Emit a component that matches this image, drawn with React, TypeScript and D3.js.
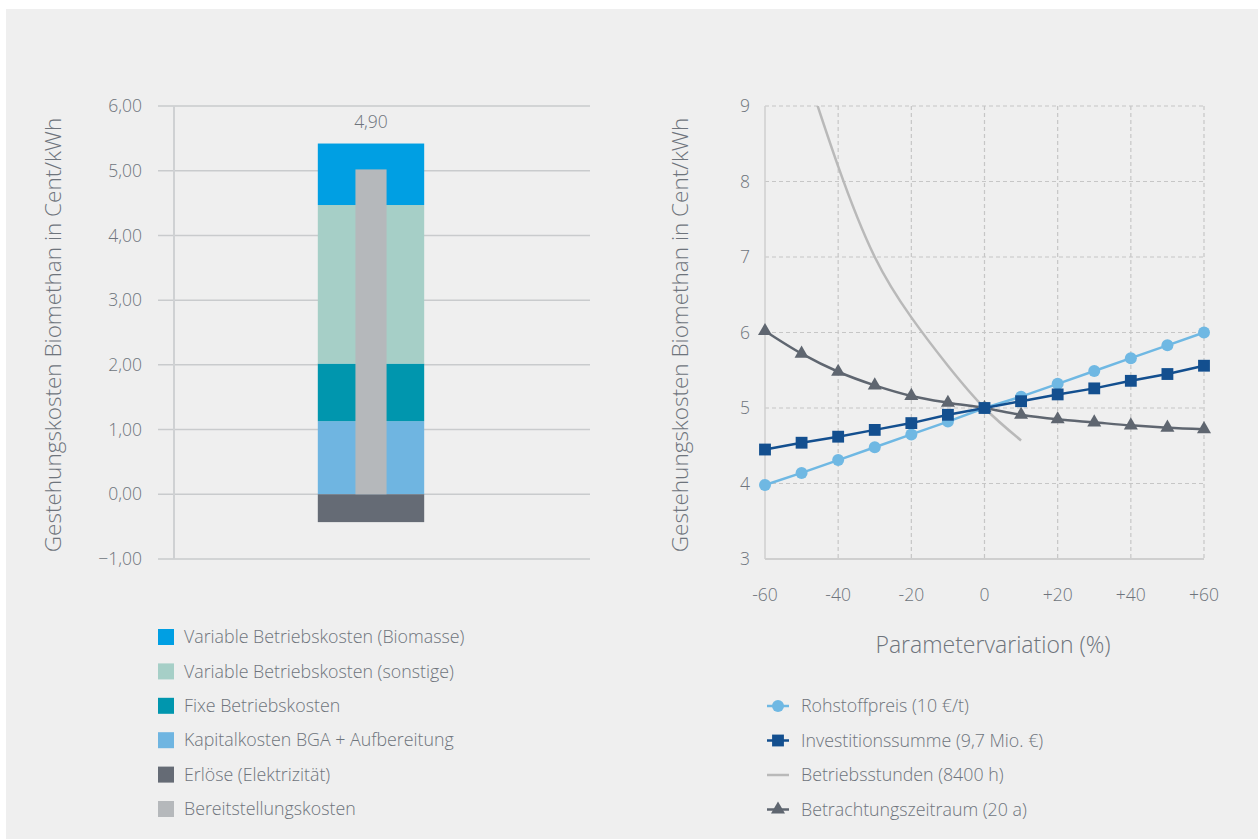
import React from "react";
import * as d3 from "d3";

// ---------- Left chart data ----------
const barCategory = ["Biomethan"];
const stackKeys = [
  "Kapitalkosten BGA + Aufbereitung",
  "Fixe Betriebskosten",
  "Variable Betriebskosten (sonstige)",
  "Variable Betriebskosten (Biomasse)",
];
const stackValues = [1.13, 0.89, 2.45, 0.95];
const stackColors = ["#6fb5e1", "#0096ae", "#a6cfc7", "#009fe3"];
const erloeseValue = -0.43;
const erloeseColor = "#656b75";
const bereitstellungValue = 5.02;
const bereitstellungColor = "#b5b8bb";
const totalLabel = "4,90";
const leftTicks = [-1, 0, 1, 2, 3, 4, 5, 6];
const leftLegend = [
  { label: "Variable Betriebskosten (Biomasse)", color: "#009fe3" },
  { label: "Variable Betriebskosten (sonstige)", color: "#a6cfc7" },
  { label: "Fixe Betriebskosten", color: "#0096ae" },
  { label: "Kapitalkosten BGA + Aufbereitung", color: "#6fb5e1" },
  { label: "Erlöse (Elektrizität)", color: "#656b75" },
  { label: "Bereitstellungskosten", color: "#b5b8bb" },
];

// ---------- Right chart data ----------
const variation = [-60, -50, -40, -30, -20, -10, 0, 10, 20, 30, 40, 50, 60];
const rohstoffpreis = [3.98, 4.14, 4.31, 4.48, 4.65, 4.82, 5.0, 5.15, 5.32, 5.49, 5.66, 5.83, 6.0];
const investitionssumme = [4.45, 4.54, 4.62, 4.71, 4.8, 4.91, 5.0, 5.09, 5.18, 5.26, 5.36, 5.45, 5.56];
const betrachtungszeitraum = [6.02, 5.72, 5.48, 5.3, 5.16, 5.07, 5.0, 4.91, 4.85, 4.81, 4.77, 4.74, 4.72];
const stundenVariation = [-50, -40, -30, -20, -10, 0, 10];
const betriebsstunden = [9.65, 8.2, 7.0, 6.2, 5.56, 5.0, 4.57];
const rightYTicks = [3, 4, 5, 6, 7, 8, 9];
const rightXTicks = [-60, -40, -20, 0, 20, 40, 60];

const TEXT = "#6e747c";
const FONT = "'Open Sans', 'Noto Sans', sans-serif";

export default function App() {
  // Left scales
  const yL = d3.scaleLinear().domain([-1, 6]).range([559, 106]);
  const xL = d3.scaleBand().domain(barCategory).range([174, 568]);
  const bw = xL.bandwidth();
  const cx = (xL(barCategory[0]) as number) + bw / 2;
  const outerW = bw * 0.27;
  const innerW = bw * 0.079;

  let acc = 0;
  const stacks = stackValues.map((v, i) => {
    const y0 = acc;
    acc += v;
    return { key: stackKeys[i], y0, y1: acc, color: stackColors[i] };
  });
  const topTotal = acc;

  // Right scales
  const xR = d3.scaleLinear().domain([-60, 60]).range([765, 1204]);
  const yR = d3.scaleLinear().domain([3, 9]).range([559, 106]);

  const straight = d3
    .line<number>()
    .x((_, i) => xR(variation[i]))
    .y((d) => yR(d));
  const smooth = d3
    .line<number>()
    .x((_, i) => xR(variation[i]))
    .y((d) => yR(d))
    .curve(d3.curveCatmullRom.alpha(0.5));
  const stundenLine = d3
    .line<number>()
    .x((_, i) => xR(stundenVariation[i]))
    .y((d) => yR(d))
    .curve(d3.curveNatural);

  const squarePath = d3.symbol().type(d3.symbolSquare).size(140)();
  const triPath = d3.symbol().type(d3.symbolTriangle).size(85)();

  const rightLegend = [
    { label: "Rohstoffpreis (10 €/t)", color: "#6fb8e3", marker: "circle" },
    { label: "Investitionssumme (9,7 Mio. €)", color: "#134f8f", marker: "square" },
    { label: "Betriebsstunden (8400 h)", color: "#b9b9b9", marker: "none" },
    { label: "Betrachtungszeitraum (20 a)", color: "#5f6670", marker: "triangle" },
  ];

  const marker = (type: string, x: number, y: number, color: string, key: string) => {
    if (type === "circle") return <circle key={key} cx={x} cy={y} r={6} fill={color} />;
    if (type === "square") return <path key={key} d={squarePath as string} transform={`translate(${x},${y})`} fill={color} />;
    if (type === "triangle") return <path key={key} d={triPath as string} transform={`translate(${x},${y})`} fill={color} />;
    return null;
  };

  return (
    <svg
      width={1258}
      height={839}
      style={{ position: "absolute", left: 0, top: 0, fontFamily: FONT, fontWeight: 300 }}
    >
      <rect x={0} y={0} width={1258} height={839} fill="#ffffff" />
      <rect x={6} y={9} width={1252} height={830} fill="#efefef" />

      {/* ---------- Left chart ---------- */}
      {leftTicks.map((t) => (
        <g key={"lt" + t}>
          <line x1={158} x2={590} y1={yL(t)} y2={yL(t)} stroke="#c9cbcd" strokeWidth={1.5} />
          <text x={142} y={yL(t)} dy="0.35em" textAnchor="end" fontSize={17.5} fill={TEXT}>
            {d3.format(".2f")(t).replace(".", ",")}
          </text>
        </g>
      ))}
      <line x1={174} x2={174} y1={106} y2={559} stroke="#cfd1d3" strokeWidth={2} />

      {stacks.map((s) => (
        <rect
          key={s.key}
          x={cx - outerW / 2}
          width={outerW}
          y={yL(s.y1)}
          height={yL(s.y0) - yL(s.y1)}
          fill={s.color}
        />
      ))}
      <rect
        x={cx - outerW / 2}
        width={outerW}
        y={yL(0)}
        height={yL(erloeseValue) - yL(0)}
        fill={erloeseColor}
      />
      <rect
        x={cx - innerW / 2}
        width={innerW}
        y={yL(bereitstellungValue)}
        height={yL(0) - yL(bereitstellungValue)}
        fill={bereitstellungColor}
      />
      <text x={cx} y={yL(topTotal) - 22} dy="0.35em" textAnchor="middle" fontSize={17.5} fill={TEXT}>
        {totalLabel}
      </text>

      <text
        transform={`translate(53,${(115 + 555) / 2}) rotate(-90)`}
        textAnchor="middle"
        dy="0.35em"
        fontSize={22.5}
        fill={TEXT}
      >
        Gestehungskosten Biomethan in Cent/kWh
      </text>

      {leftLegend.map((l, i) => (
        <g key={l.label} transform={`translate(158,${637 + i * 34.4})`}>
          <rect x={0} y={-8} width={16} height={16} fill={l.color} />
          <text x={26} y={0} dy="0.35em" fontSize={17.8} fill={TEXT}>
            {l.label}
          </text>
        </g>
      ))}

      {/* ---------- Right chart ---------- */}
      <defs>
        <clipPath id="plotR">
          <rect x={765} y={106} width={439} height={453} />
        </clipPath>
      </defs>
      {rightYTicks.map((t) => (
        <g key={"ry" + t}>
          {t !== 3 && (
            <line x1={765} x2={1204} y1={yR(t)} y2={yR(t)} stroke="#c6c6c6" strokeWidth={1.2} strokeDasharray="4,3" />
          )}
          <text x={750} y={yR(t)} dy="0.35em" textAnchor="end" fontSize={17.5} fill={TEXT}>
            {t}
          </text>
        </g>
      ))}
      {rightXTicks.map((t) => (
        <g key={"rx" + t}>
          {t !== -60 && (
            <line x1={xR(t)} x2={xR(t)} y1={106} y2={559} stroke="#c6c6c6" strokeWidth={1.2} strokeDasharray="4,3" />
          )}
          <text x={xR(t)} y={595} dy="0.35em" textAnchor="middle" fontSize={17.5} fill={TEXT}>
            {t > 0 ? "+" + t : String(t)}
          </text>
        </g>
      ))}
      <line x1={765} x2={765} y1={106} y2={559} stroke="#cfcfcf" strokeWidth={1.5} />
      <line x1={765} x2={1204} y1={559} y2={559} stroke="#cfcfcf" strokeWidth={2} />

      <g clipPath="url(#plotR)">
        <path d={stundenLine(betriebsstunden) as string} fill="none" stroke="#b9b9b9" strokeWidth={2.5} />
      </g>
      <path d={smooth(betrachtungszeitraum) as string} fill="none" stroke="#5f6670" strokeWidth={2.5} />
      {betrachtungszeitraum.map((v, i) => marker("triangle", xR(variation[i]), yR(v), "#5f6670", "t" + i))}
      <path d={straight(rohstoffpreis) as string} fill="none" stroke="#6fb8e3" strokeWidth={2.5} />
      {rohstoffpreis.map((v, i) => marker("circle", xR(variation[i]), yR(v), "#6fb8e3", "c" + i))}
      <path d={straight(investitionssumme) as string} fill="none" stroke="#134f8f" strokeWidth={2.5} />
      {investitionssumme.map((v, i) => marker("square", xR(variation[i]), yR(v), "#134f8f", "s" + i))}

      <text
        transform={`translate(680,${(115 + 555) / 2}) rotate(-90)`}
        textAnchor="middle"
        dy="0.35em"
        fontSize={22.5}
        fill={TEXT}
      >
        Gestehungskosten Biomethan in Cent/kWh
      </text>
      <text x={993} y={645} dy="0.35em" textAnchor="middle" fontSize={23} fill={TEXT}>
        Parametervariation (%)
      </text>

      {rightLegend.map((l, i) => (
        <g key={l.label} transform={`translate(0,${706 + i * 34.5})`}>
          <line x1={767} x2={789} y1={0} y2={0} stroke={l.color} strokeWidth={2.5} />
          {marker(l.marker, 778, 0, l.color, "lm" + i)}
          <text x={801} y={0} dy="0.35em" fontSize={17.8} fill={TEXT}>
            {l.label}
          </text>
        </g>
      ))}
    </svg>
  );
}
